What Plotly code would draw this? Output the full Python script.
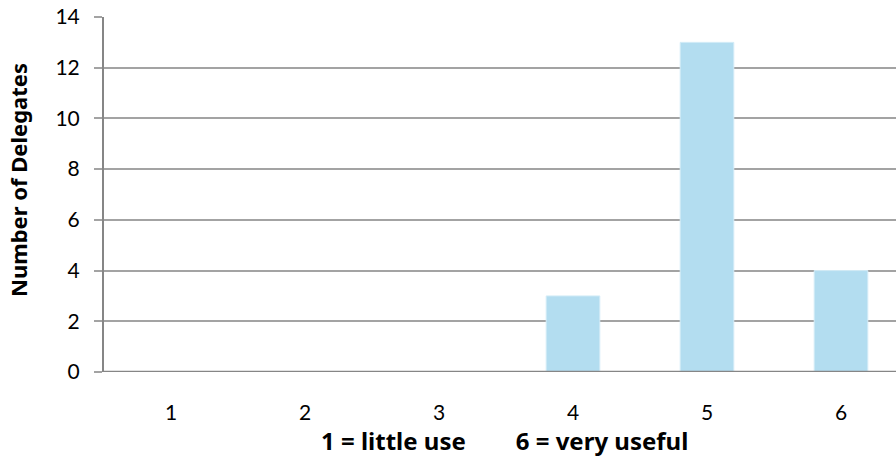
import plotly.graph_objects as go

categories = [1, 2, 3, 4, 5, 6]
delegates = [0, 0, 0, 3, 13, 4]
y_ticks = [0, 2, 4, 6, 8, 10, 12, 14]

W, H = 896, 472
L, R, T, B = 104, 0, 17, 100
pw = W - L - R
ph = H - T - B

fig = go.Figure()
fig.add_trace(go.Bar(
    x=categories, y=delegates, width=0.4,
    marker=dict(color="#B3DDF0", line=dict(color="#D3ECF7", width=1)),
    hoverinfo="x+y",
))

fig.update_layout(
    width=W, height=H,
    margin=dict(l=L, r=R, t=T, b=B, pad=0),
    paper_bgcolor="white", plot_bgcolor="white",
    showlegend=False,
    font=dict(family="Lato", size=21, color="#000000"),
    xaxis=dict(
        range=[0.5, 0.5 + pw / 134.0],
        tickmode="array", tickvals=categories, ticktext=[str(c) for c in categories],
        showgrid=False, zeroline=False, showline=False,
        ticks="", ticklabelstandoff=26, automargin=False,
        tickfont=dict(family="Lato", size=21, color="#000000"),
    ),
    yaxis=dict(
        range=[0, 14],
        tickmode="array", tickvals=y_ticks,
        showgrid=True, gridcolor="#A3A3A3", gridwidth=1.5,
        zeroline=False, automargin=False,
        showline=True, linecolor="#868686", linewidth=2,
        ticks="outside", ticklen=8, tickcolor="#A3A3A3", tickwidth=1.5,
        ticklabelstandoff=10,
        tickfont=dict(family="Lato", size=21, color="#000000"),
    ),
    annotations=[
        dict(text="Number of Delegates", textangle=-90,
             xref="paper", yref="paper",
             x=(18 - L) / pw, y=(372 - 180) / ph,
             xanchor="center", yanchor="middle", showarrow=False,
             font=dict(family="Noto Sans", size=22, color="#000000", weight="bold")),
        dict(text="1 = little use" + "\u00a0" * 8 + "6 = very useful",
             xref="paper", yref="paper",
             x=(505 - L) / pw, y=(372 - 440) / ph,
             xanchor="center", yanchor="middle", showarrow=False,
             font=dict(family="Noto Sans", size=24, color="#000000", weight="bold")),
    ],
)

# bottom axis line
fig.add_shape(type="line", xref="paper", yref="y", x0=0, x1=1, y0=0, y1=0,
              line=dict(color="#868686", width=2.5))

fig.write_html(
    "out.html",
    config={"displayModeBar": False},
    post_script="document.body.style.margin='0';document.body.style.overflow='hidden';",
)
